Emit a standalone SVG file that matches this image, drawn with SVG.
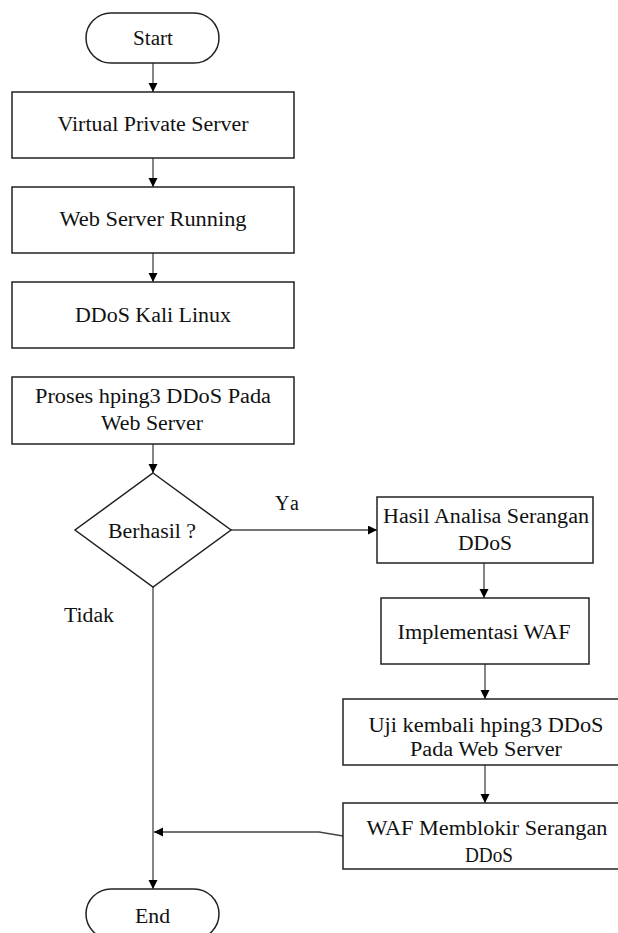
<svg xmlns="http://www.w3.org/2000/svg" width="618" height="933" viewBox="0 0 618 933">
<style>
.n{fill:#fff;stroke:#222;stroke-width:1.5}
.t{text-anchor:middle}
.c{fill:none;stroke:#444;stroke-width:1.3}
</style>
<defs>
<marker id="ah" markerWidth="10" markerHeight="10" refX="9" refY="4.5" orient="auto" markerUnits="userSpaceOnUse">
<path d="M0,0 L9,4.5 L0,9 Z" fill="#000"/>
</marker>
</defs>
<rect width="618" height="933" fill="#fff"/>
<g font-family="'Liberation Serif','Times New Roman',serif" font-size="20" fill="#111">
<g id="connectors">
<line class="c" x1="153" y1="63" x2="153" y2="92" marker-end="url(#ah)"/>
<line class="c" x1="153" y1="158" x2="153" y2="187" marker-end="url(#ah)"/>
<line class="c" x1="153" y1="253" x2="153" y2="282" marker-end="url(#ah)"/>
<line class="c" x1="153" y1="444" x2="153" y2="473" marker-end="url(#ah)"/>
<line class="c" x1="231" y1="530" x2="377" y2="530" marker-end="url(#ah)"/>
<line class="c" x1="484" y1="563" x2="484" y2="598" marker-end="url(#ah)"/>
<line class="c" x1="485" y1="664" x2="485" y2="699" marker-end="url(#ah)"/>
<line class="c" x1="485" y1="765" x2="485" y2="803" marker-end="url(#ah)"/>
<polyline class="c" points="343,836 319,832 154,832" marker-end="url(#ah)"/>
<line class="c" x1="153" y1="587" x2="153" y2="889" marker-end="url(#ah)"/>
<text x="275" y="510" textLength="24" lengthAdjust="spacing">Ya</text>
<text x="64" y="622" textLength="50" lengthAdjust="spacingAndGlyphs">Tidak</text>
</g>
<g id="start">
<rect class="n" x="86" y="13" width="133" height="50" rx="25" ry="25"/>
<text class="t" x="153" y="45" textLength="40" lengthAdjust="spacingAndGlyphs">Start</text>
</g>
<g id="vps">
<rect class="n" x="12" y="92" width="282" height="66"/>
<text class="t" x="153" y="131" textLength="191" lengthAdjust="spacingAndGlyphs">Virtual Private Server</text>
</g>
<g id="webserver">
<rect class="n" x="12" y="187" width="282" height="66"/>
<text class="t" x="153" y="226" textLength="187" lengthAdjust="spacingAndGlyphs">Web Server Running</text>
</g>
<g id="kali">
<rect class="n" x="12" y="282" width="282" height="66"/>
<text class="t" x="153" y="322" textLength="156" lengthAdjust="spacingAndGlyphs">DDoS Kali Linux</text>
</g>
<g id="proses">
<rect class="n" x="12" y="377" width="282" height="67"/>
<text class="t" x="153" y="403" textLength="236" lengthAdjust="spacingAndGlyphs">Proses hping3 DDoS Pada</text>
<text class="t" x="152" y="430" textLength="102" lengthAdjust="spacingAndGlyphs">Web Server</text>
</g>
<g id="decision">
<polygon class="n" points="153,473 231,530 153,587 75,530"/>
<text class="t" x="152" y="538" textLength="88" lengthAdjust="spacingAndGlyphs">Berhasil ?</text>
</g>
<g id="hasil">
<rect class="n" x="377" y="497" width="216" height="66"/>
<text class="t" x="486" y="523" textLength="206" lengthAdjust="spacingAndGlyphs">Hasil Analisa Serangan</text>
<text class="t" x="485" y="550" textLength="54" lengthAdjust="spacingAndGlyphs">DDoS</text>
</g>
<g id="implementasi">
<rect class="n" x="381" y="598" width="208" height="66"/>
<text class="t" x="484" y="639" textLength="173" lengthAdjust="spacingAndGlyphs">Implementasi WAF</text>
</g>
<g id="uji">
<rect class="n" x="343" y="699" width="282" height="66"/>
<text class="t" x="486" y="732" textLength="235" lengthAdjust="spacingAndGlyphs">Uji kembali hping3 DDoS</text>
<text class="t" x="486" y="756" textLength="152" lengthAdjust="spacingAndGlyphs">Pada Web Server</text>
</g>
<g id="waf">
<rect class="n" x="343" y="803" width="282" height="66"/>
<text class="t" x="487" y="835" textLength="241" lengthAdjust="spacingAndGlyphs">WAF Memblokir Serangan</text>
<text class="t" x="489" y="862" textLength="48" lengthAdjust="spacingAndGlyphs">DDoS</text>
</g>
<g id="end">
<rect class="n" x="86" y="889" width="133" height="50" rx="25" ry="25"/>
<text class="t" x="152.5" y="923" textLength="35" lengthAdjust="spacingAndGlyphs">End</text>
</g>
</g>
</svg>
